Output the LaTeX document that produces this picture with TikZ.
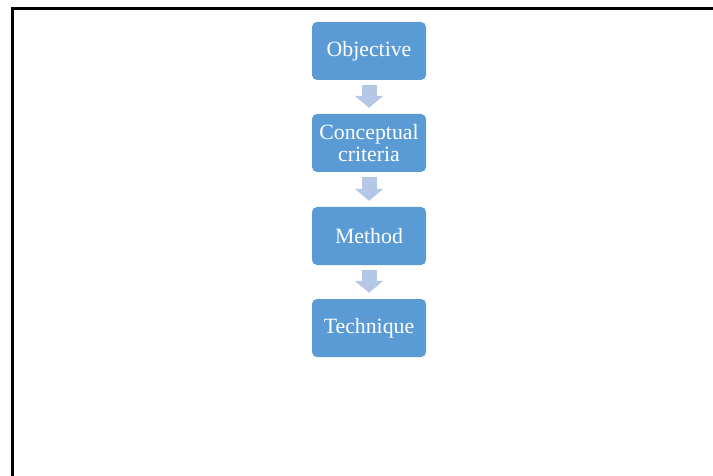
\documentclass[tikz,border=0pt]{standalone}
\usepackage{fontspec}
\setmainfont{Liberation Serif}
\usetikzlibrary{arrows.meta}
\definecolor{boxblue}{HTML}{5B9BD5}
\definecolor{arrblue}{HTML}{B4C7E7}
\begin{document}
\begin{tikzpicture}[x=1pt,y=-1pt,
  stepbox/.style={fill=boxblue, rounded corners=5pt, minimum width=114pt, minimum height=58pt,
    inner sep=0pt, text=white, align=center, font=\fontsize{21.8}{22}\selectfont},
  blockarrow/.style={draw=arrblue, line width=15pt, line cap=butt,
    -{Triangle[width=28pt,length=12pt]}}]
\useasboundingbox (0,0) rectangle (713,476);
\draw[line width=2.5pt] (12.5,476) -- (12.5,8.3) -- (713,8.3);
\node[stepbox] (o) at (369,51) {\raisebox{-1pt}{Objective}};
\node[stepbox] (c) at (369,143) {Conceptual\\criteria};
\node[stepbox] (m) at (369,236) {Method};
\node[stepbox] (t) at (369,328) {Technique};
\draw[blockarrow] ([yshift=-5pt]o.south) -- ([yshift=6pt]c.north);
\draw[blockarrow] ([yshift=-5pt]c.south) -- ([yshift=6pt]m.north);
\draw[blockarrow] ([yshift=-5pt]m.south) -- ([yshift=6pt]t.north);
\end{tikzpicture}
\end{document}
